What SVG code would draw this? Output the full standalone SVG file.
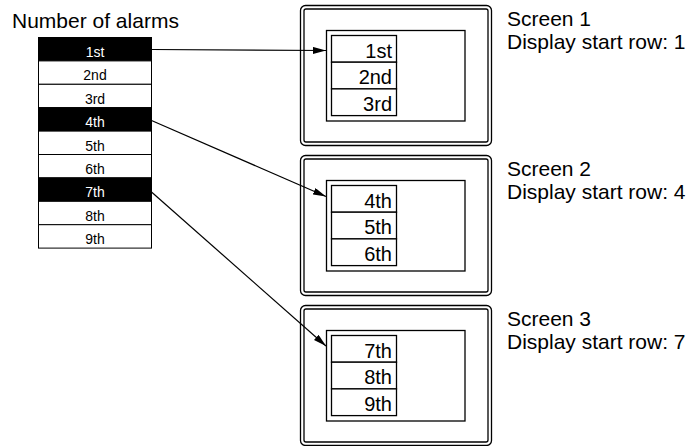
<svg xmlns="http://www.w3.org/2000/svg" width="688" height="446" viewBox="0 0 688 446">
<defs>
<style>
text{font-family:"Liberation Sans",Arial,sans-serif;fill:#000}
.big{font-size:21px}
.lbl{font-size:14px;text-anchor:middle}
.w{fill:#fff}
.row{fill:#fff;stroke:#000;stroke-width:1}
.blk{fill:#000;stroke:#000;stroke-width:1}
.frame{fill:none;stroke:#000;stroke-width:1.3}
.scr{fill:#fff;stroke:#000;stroke-width:1.3}
.cell{fill:#fff;stroke:#000;stroke-width:1.3}
.st{font-size:20px;text-anchor:end}
.conn{stroke:#000;stroke-width:1.2;fill:none;marker-end:url(#arr)}
</style>
<marker id="arr" viewBox="0 0 13 7" refX="13" refY="3.5" markerWidth="13" markerHeight="7" markerUnits="userSpaceOnUse" orient="auto">
<path d="M0,0 L13,3.5 L0,7 z" fill="#000"/>
</marker>
</defs>
<rect width="688" height="446" fill="#fff"/>

<g id="alarm-list">
<text class="big" x="12" y="27.5">Number of alarms</text>
<rect class="blk" x="38.5" y="37.5" width="113" height="23.4"/>
<rect class="row" x="38.5" y="60.9" width="113" height="23.4"/>
<rect class="row" x="38.5" y="84.3" width="113" height="23.4"/>
<rect class="blk" x="38.5" y="107.7" width="113" height="23.4"/>
<rect class="row" x="38.5" y="131.1" width="113" height="23.4"/>
<rect class="row" x="38.5" y="154.5" width="113" height="23.4"/>
<rect class="blk" x="38.5" y="177.9" width="113" height="23.4"/>
<rect class="row" x="38.5" y="201.3" width="113" height="23.4"/>
<rect class="row" x="38.5" y="224.7" width="113" height="23.4"/>
<text class="lbl w" x="95" y="57">1st</text>
<text class="lbl" x="95" y="80.4">2nd</text>
<text class="lbl" x="95" y="103.8">3rd</text>
<text class="lbl w" x="95" y="127.2">4th</text>
<text class="lbl" x="95" y="150.6">5th</text>
<text class="lbl" x="95" y="174">6th</text>
<text class="lbl w" x="95" y="197.4">7th</text>
<text class="lbl" x="95" y="220.8">8th</text>
<text class="lbl" x="95" y="244.2">9th</text>
</g>

<g id="screen1">
<rect class="frame" x="300.5" y="5.5" width="191" height="140" rx="5"/>
<rect class="frame" x="304" y="9" width="184" height="133" rx="2"/>
<rect class="scr" x="326.5" y="30.5" width="138.5" height="90.5"/>
<rect class="cell" x="331.5" y="35.5" width="65" height="26.7"/>
<rect class="cell" x="331.5" y="62.2" width="65" height="26.7"/>
<rect class="cell" x="331.5" y="88.9" width="65" height="26.7"/>
<text class="st" x="392" y="57.5">1st</text>
<text class="st" x="392" y="84.2">2nd</text>
<text class="st" x="392" y="110.9">3rd</text>
<text class="big" x="507" y="26">Screen 1</text>
<text class="big" x="507" y="49">Display start row: 1</text>
</g>

<g id="screen2">
<rect class="frame" x="300.5" y="155.5" width="191" height="140" rx="5"/>
<rect class="frame" x="304" y="159" width="184" height="133" rx="2"/>
<rect class="scr" x="326.5" y="180.5" width="138.5" height="90.5"/>
<rect class="cell" x="331.5" y="185.5" width="65" height="26.7"/>
<rect class="cell" x="331.5" y="212.2" width="65" height="26.7"/>
<rect class="cell" x="331.5" y="238.9" width="65" height="26.7"/>
<text class="st" x="392" y="207.5">4th</text>
<text class="st" x="392" y="234.2">5th</text>
<text class="st" x="392" y="260.9">6th</text>
<text class="big" x="507" y="176">Screen 2</text>
<text class="big" x="507" y="199">Display start row: 4</text>
</g>

<g id="screen3">
<rect class="frame" x="300.5" y="305.5" width="191" height="140" rx="5"/>
<rect class="frame" x="304" y="309" width="184" height="133" rx="2"/>
<rect class="scr" x="326.5" y="330.5" width="138.5" height="90.5"/>
<rect class="cell" x="331.5" y="335.5" width="65" height="26.7"/>
<rect class="cell" x="331.5" y="362.2" width="65" height="26.7"/>
<rect class="cell" x="331.5" y="388.9" width="65" height="26.7"/>
<text class="st" x="392" y="357.5">7th</text>
<text class="st" x="392" y="384.2">8th</text>
<text class="st" x="392" y="410.9">9th</text>
<text class="big" x="507" y="326">Screen 3</text>
<text class="big" x="507" y="349">Display start row: 7</text>
</g>

<g id="connectors">
<line class="conn" x1="151.5" y1="49.5" x2="326" y2="50.5"/>
<line class="conn" x1="151.5" y1="120.5" x2="326" y2="196.5"/>
<line class="conn" x1="151.5" y1="192" x2="326" y2="346"/>
</g>
</svg>
